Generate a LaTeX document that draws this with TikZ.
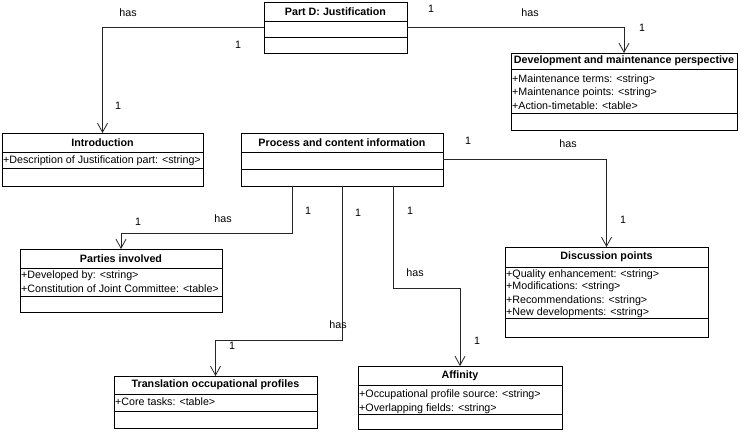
\documentclass[tikz,border=0pt]{standalone}
\usepackage{fontspec}
\setmainfont{Liberation Sans}
\usetikzlibrary{arrows.meta}
\tikzset{
  cls/.style={draw=black, line width=0.85pt, inner sep=0pt, outer sep=0pt, fill=white},
  sepl/.style={draw=black, line width=0.85pt},
  ttl/.style={font=\fontsize{10.7}{12}\selectfont\bfseries, inner sep=0pt},
  attr/.style={font=\fontsize{10.7}{12}\selectfont, inner sep=0pt, anchor=base west},
  lbl/.style={font=\fontsize{10.7}{12}\selectfont, inner sep=0pt},
  conn/.style={draw=black!85, line width=0.85pt, -{Straight Barb[length=9pt,width=10pt,line width=0.8pt]}},
}
\begin{document}
\begin{tikzpicture}[x=1pt,y=-1pt]
\useasboundingbox[fill=white] (0,0) rectangle (740,433);

% Part D
\node[cls, minimum width=143pt, minimum height=51pt, anchor=north west] (partd) at (264,2) {};
\draw[sepl] (264,21) -- (407,21); \draw[sepl] (264,37) -- (407,37);
\node[ttl] (partdT) at (335.5,11.5) {Part D: Justification};

% Development
\node[cls, minimum width=226pt, minimum height=77pt, anchor=north west] (dev) at (511,53) {};
\draw[sepl] (511,69) -- (737,69); \draw[sepl] (511,113) -- (737,113);
\node[ttl] (devT) at (624,61) {Development and maintenance perspective};
\node[attr] (devA1) at (512,83) {+Maintenance terms: <string>};
\node[attr] (devA2) at (512,96) {+Maintenance points: <string>};
\node[attr] (devA3) at (512,109.5) {+Action-timetable: <table>};

% Introduction
\node[cls, minimum width=201pt, minimum height=53pt, anchor=north west] (intro) at (2,133) {};
\draw[sepl] (2,152) -- (203,152); \draw[sepl] (2,168) -- (203,168);
\node[ttl] (introT) at (102.5,142.5) {Introduction};
\node[attr] (introA1) at (3,163.5) {+Description of Justification part: <string>};

% Process
\node[cls, minimum width=202pt, minimum height=53pt, anchor=north west] (proc) at (241,133) {};
\draw[sepl] (241,152) -- (443,152); \draw[sepl] (241,169) -- (443,169);
\node[ttl] (procT) at (342,142.5) {Process and content information};

% Parties
\node[cls, minimum width=202pt, minimum height=63pt, anchor=north west] (parties) at (20,249) {};
\draw[sepl] (20,268) -- (222,268); \draw[sepl] (20,296) -- (222,296);
\node[ttl] (partiesT) at (121,258.5) {Parties involved};
\node[attr] (partiesA1) at (21,279) {+Developed by: <string>};
\node[attr] (partiesA2) at (21,292.5) {+Constitution of Joint Committee: <table>};

% Discussion
\node[cls, minimum width=203pt, minimum height=90pt, anchor=north west] (disc) at (505,247) {};
\draw[sepl] (505,267) -- (708,267); \draw[sepl] (505,318) -- (708,318);
\node[ttl] (discT) at (606.5,257) {Discussion points};
\node[attr] (discA1) at (506,277) {+Quality enhancement: <string>};
\node[attr] (discA2) at (506,290) {+Modifications: <string>};
\node[attr] (discA3) at (506,303) {+Recommendations: <string>};
\node[attr] (discA4) at (506,316) {+New developments: <string>};

% Translation
\node[cls, minimum width=203pt, minimum height=52pt, anchor=north west] (trans) at (114,376) {};
\draw[sepl] (114,394) -- (317,394); \draw[sepl] (114,411) -- (317,411);
\node[ttl] (transT) at (215.5,385) {Translation occupational profiles};
\node[attr] (transA1) at (115,405.5) {+Core tasks: <table>};

% Affinity
\node[cls, minimum width=204pt, minimum height=63pt, anchor=north west] (aff) at (358,366) {};
\draw[sepl] (358,385) -- (562,385); \draw[sepl] (358,414) -- (562,414);
\node[ttl] (affT) at (460,375.5) {Affinity};
\node[attr] (affA1) at (359,397) {+Occupational profile source: <string>};
\node[attr] (affA2) at (359,411) {+Overlapping fields: <string>};

% connectors
\coordinate (b1) at (292,233);
\coordinate (b2) at (342,340);
\coordinate (b3) at (393,288);
\draw[conn] (partd.west) -| (intro.north);
\draw[conn] (partd.east) -| (dev.north);
\draw[conn] (proc.east) -| (disc.north);
\draw[conn] (proc.south west -| b1) -- (b1) -| (parties.north);
\draw[conn] (proc.south west -| b2) -- (b2) -| (trans.north);
\draw[conn] (proc.south west -| b3) -- (b3) -| (aff.north);

% labels
\node[lbl] (l1) at (128,13) {has};
\node[lbl] (l2) at (238,45) {1};
\node[lbl] (l3) at (118,106) {1};
\node[lbl] (l4) at (431,9) {1};
\node[lbl] (l5) at (530,13) {has};
\node[lbl] (l6) at (642,28) {1};
\node[lbl] (l7) at (468,141) {1};
\node[lbl] (l8) at (568,144) {has};
\node[lbl] (l9) at (623,220) {1};
\node[lbl] (l10) at (138,222) {1};
\node[lbl] (l11) at (223,219) {has};
\node[lbl] (l12) at (308,211) {1};
\node[lbl] (l13) at (358,213) {1};
\node[lbl] (l14) at (338,325) {has};
\node[lbl] (l15) at (232,346) {1};
\node[lbl] (l16) at (410,211) {1};
\node[lbl] (l17) at (415,273) {has};
\node[lbl] (l18) at (477,341) {1};
\end{tikzpicture}
\end{document}
